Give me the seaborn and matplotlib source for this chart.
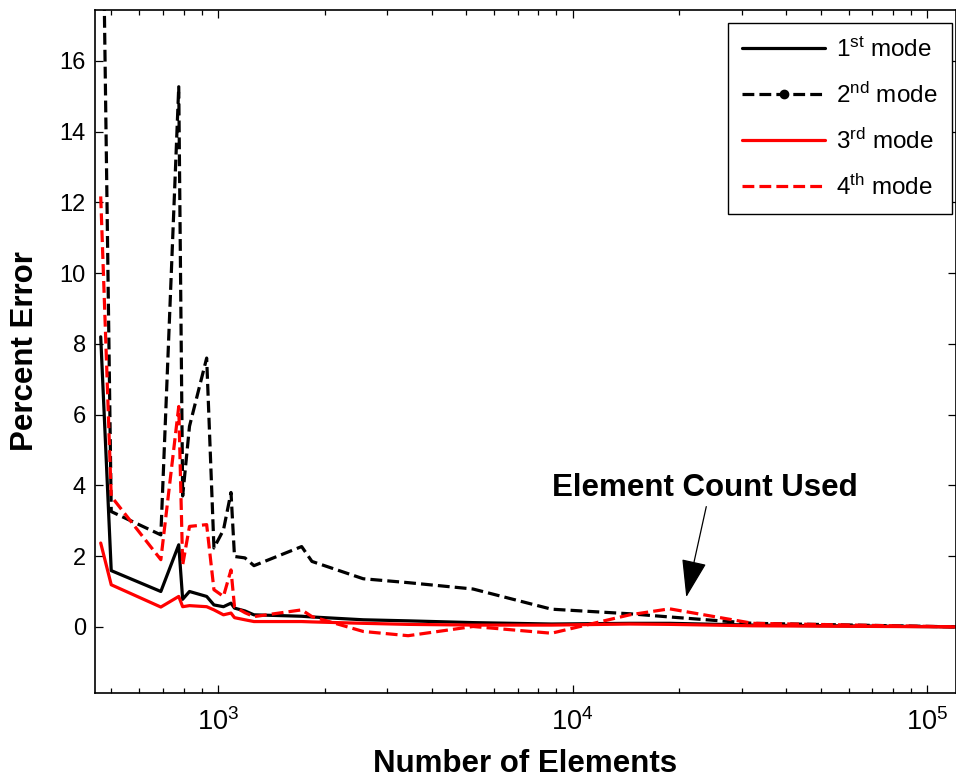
import numpy as np
import pandas as pd
import matplotlib
matplotlib.use("Agg")
import matplotlib.pyplot as plt
from matplotlib.lines import Line2D
from matplotlib.ticker import LogLocator, NullFormatter, FixedLocator
import seaborn as sns

# Mesh sizes (number of elements) shared by every mode
elements = [467, 500, 690, 775, 795, 831, 929, 974, 1036, 1088, 1113, 1191,
            1263, 1721, 1840, 2567, 3436, 5236, 8710, 14475, 18750, 32200, 120000]

# Percent error of each natural frequency against the converged value
mode1 = [8.2, 1.59, 1.0, 2.32, 0.78, 1.0, 0.86, 0.62, 0.57, 0.67, 0.53, 0.45,
         0.34, 0.30, 0.28, 0.20, 0.17, 0.12, 0.08, 0.10, 0.10, 0.05, 0.0]
mode2 = [25.0, 3.26, 2.6, 15.27, 3.7, 5.67, 7.6, 2.23, 2.74, 3.8, 1.99, 1.95,
         1.73, 2.27, 1.85, 1.36, 1.25, 1.07, 0.50, 0.37, 0.28, 0.10, 0.0]
mode3 = [2.37, 1.19, 0.56, 0.86, 0.57, 0.60, 0.57, 0.48, 0.34, 0.39, 0.26, 0.20,
         0.15, 0.15, 0.14, 0.10, 0.07, 0.05, 0.05, 0.08, 0.07, 0.03, 0.0]
mode4 = [12.17, 3.69, 1.9, 6.23, 1.75, 2.84, 2.89, 1.05, 0.86, 1.61, 0.57, 0.40,
         0.29, 0.48, 0.29, -0.13, -0.25, 0.01, -0.18, 0.34, 0.51, 0.10, 0.0]

mode_labels = [r"1$^{\mathrm{st}}$ mode", r"2$^{\mathrm{nd}}$ mode",
               r"3$^{\mathrm{rd}}$ mode", r"4$^{\mathrm{th}}$ mode"]
y_ticks = [0, 2, 4, 6, 8, 10, 12, 14, 16]

# Chosen mesh marked on the plot
used_count = 20900
used_error = 0.84

sns.set_style("ticks")
plt.rcParams["font.family"] = ["Liberation Sans", "DejaVu Sans"]
plt.rcParams["mathtext.fontset"] = "custom"
plt.rcParams["mathtext.rm"] = "Liberation Sans"
plt.rcParams["mathtext.it"] = "Liberation Sans:italic"
plt.rcParams["mathtext.bf"] = "Liberation Sans:bold"
for key in ["text.color", "axes.labelcolor", "xtick.color", "ytick.color",
            "axes.edgecolor"]:
    plt.rcParams[key] = "black"

fig = plt.figure(figsize=(9.56, 7.78), dpi=100)
ax = fig.add_axes([95 / 956, 1 - 693 / 778, 860.5 / 956, 683 / 778])

styles = [("black", "-"), ("black", "--"), ("red", "-"), ("red", "--")]
series = [mode1, mode2, mode3, mode4]
for vals, (col, ls) in zip(series, styles):
    df = pd.DataFrame({"elements": elements, "error": vals})
    sns.lineplot(data=df, x="elements", y="error", ax=ax, color=col,
                 linestyle=ls, linewidth=2.3, legend=False)

ax.set_xscale("log")
ax.set_xlim(450, 120000)
ax.set_ylim(-1.87, 17.44)
ax.yaxis.set_major_locator(FixedLocator(y_ticks))
ax.set_yticklabels([str(t) for t in y_ticks])
ax.xaxis.set_major_locator(LogLocator(base=10))
ax.xaxis.set_minor_locator(LogLocator(base=10, subs=np.arange(2, 10)))
ax.xaxis.set_minor_formatter(NullFormatter())

for s in ax.spines.values():
    s.set_linewidth(1.2)
    s.set_color("black")
ax.tick_params(axis="both", which="both", direction="in", top=True, right=True,
               color="black", labelcolor="black", width=0.9)
ax.tick_params(axis="both", which="major", length=6)
ax.tick_params(axis="both", which="minor", length=3.5)
ax.tick_params(axis="y", labelsize=17, pad=6.5)
ax.tick_params(axis="x", labelsize=19.5, pad=11)

ax.set_xlabel("Number of Elements", fontsize=22.5, fontweight="bold", labelpad=9)
ax.set_ylabel("Percent Error", fontsize=22.5, fontweight="bold", labelpad=14)

# Annotation pointing at the selected mesh
ax.annotate("", xy=(used_count, used_error), xytext=(23800, 3.40),
            arrowprops=dict(arrowstyle="-|>,head_length=1.2,head_width=0.4",
                            mutation_scale=20, lw=0.9, color="black",
                            shrinkA=0, shrinkB=0))
ax.text(23550, 3.93, "Element Count Used", fontsize=22.5, fontweight="bold",
        ha="center", va="center")

handles = [
    Line2D([], [], color="black", linestyle="-", linewidth=2.3),
    Line2D([], [], color="black", linestyle="--", linewidth=2.3,
           marker="o", markersize=6),
    Line2D([], [], color="red", linestyle="-", linewidth=2.3),
    Line2D([], [], color="red", linestyle="--", linewidth=2.3),
]
leg = ax.legend(handles, mode_labels, loc="upper right",
                bbox_to_anchor=((952 - 95) / 860.5, 1 - 13 / 683),
                borderaxespad=0, fontsize=17.5, frameon=True, fancybox=False,
                edgecolor="black", framealpha=1, handlelength=3.4,
                handletextpad=0.45, labelspacing=0.85, borderpad=0.6,
                numpoints=1)
leg.get_frame().set_linewidth(1.0)

fig.savefig("out.png", dpi=100)
